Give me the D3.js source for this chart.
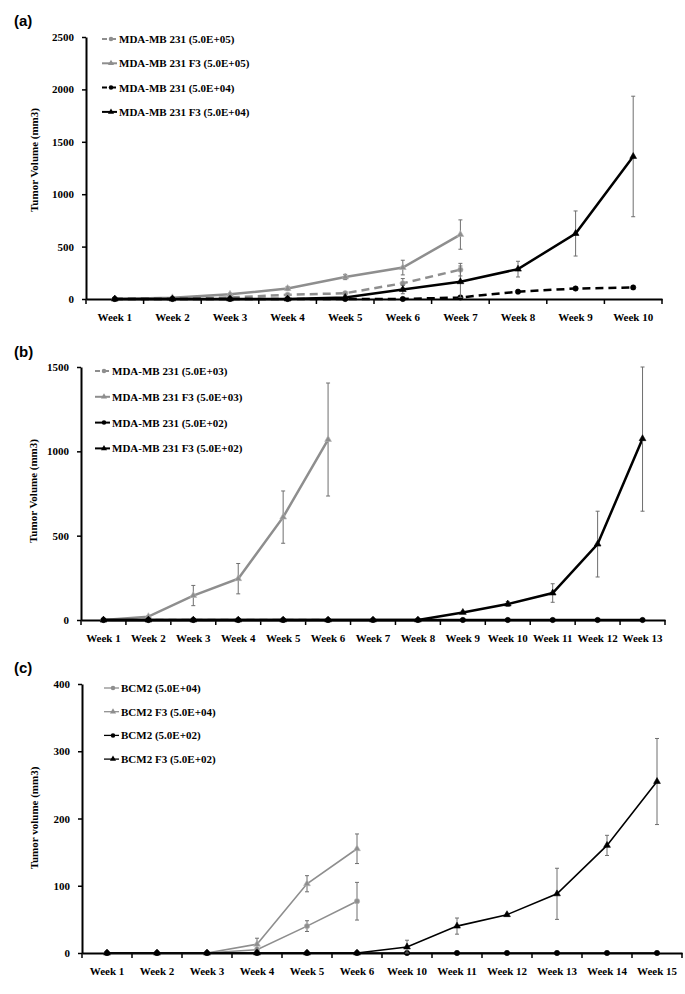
<!DOCTYPE html>
<html>
<head>
<meta charset="utf-8">
<script src="https://cdn.jsdelivr.net/npm/d3@7"></script>
<style>
body { margin: 0; background: #fff; }
text { font-family: "Liberation Serif", "Times New Roman", serif; font-weight: bold; }
</style>
</head>
<body>
<svg width="685" height="994"></svg>
<script>
// ---- panel (a) ----
var weeksA = ["Week 1","Week 2","Week 3","Week 4","Week 5","Week 6","Week 7","Week 8","Week 9","Week 10"];
var a231_5e5    = [0, 5, 15, 40, 55, 150, 280];
var a231_5e5Err = [0, 3, 8, 15, 15, 45, 60];
var aF3_5e5     = [0, 12, 45, 100, 210, 300, 615];
var aF3_5e5Err  = [0, 5, 10, 20, 25, 70, 140];
var a231_5e4    = [0, 0, 0, 0, 0, 0, 15, 70, 100, 110];
var a231_5e4Err = [0, 0, 0, 0, 0, 0, 10, 15, 15, 15];
var aF3_5e4     = [0, 0, 0, 0, 15, 90, 165, 285, 625, 1360];
var aF3_5e4Err  = [0, 0, 0, 0, 10, 40, 150, 75, 215, 575];
var ticksA = [0, 500, 1000, 1500, 2000, 2500];

// ---- panel (b) ----
var weeksB = ["Week 1","Week 2","Week 3","Week 4","Week 5","Week 6","Week 7","Week 8","Week 9","Week 10","Week 11","Week 12","Week 13"];
var b231_5e3    = [0, 0, 0, 0, 0, 0];
var bF3_5e3     = [0, 20, 145, 245, 610, 1070];
var bF3_5e3Err  = [0, 5, 60, 90, 155, 335];
var b231_5e2    = [0, 0, 0, 0, 0, 0, 0, 0, 0, 0, 0, 0, 0];
var bF3_5e2     = [0, 0, 0, 0, 0, 0, 0, 0, 45, 95, 160, 450, 1075];
var bF3_5e2Err  = [0, 0, 0, 0, 0, 0, 0, 0, 8, 15, 55, 195, 430];
var ticksB = [0, 500, 1000, 1500];

// ---- panel (c) ----
var weeksC = ["Week 1","Week 2","Week 3","Week 4","Week 5","Week 6","Week 10","Week 11","Week 12","Week 13","Week 14","Week 15"];
var cBCM2_5e4    = [0, 0, 0, 5, 40, 77];
var cBCM2_5e4Err = [0, 0, 0, 3, 8, 28];
var cF3_5e4      = [0, 0, 0, 13, 103, 155];
var cF3_5e4Err   = [0, 0, 0, 9, 12, 22];
var cBCM2_5e2    = [0, 0, 0, 0, 0, 0, 0, 0, 0, 0, 0, 0];
var cF3_5e2      = [0, 0, 0, 0, 0, 0, 9, 40, 57, 88, 160, 255];
var cF3_5e2Err   = [0, 0, 0, 0, 0, 0, 10, 12, 2, 38, 15, 64];
var ticksC = [0, 100, 200, 300, 400];

var GRAY = '#8e8e8e', BLACK = '#000';
var svg = d3.select('svg');

function drawPanel(p) {
  var x = d3.scaleBand().domain(p.cats).range([p.left, p.right]);
  var y = d3.scaleLinear().domain([0, p.yMax]).range([p.y0, p.yTop]).clamp(true);
  var cx = function(c) { return x(c) + x.bandwidth() / 2; };
  var g = svg.append('g');

  // panel letter
  g.append('text').attr('x', 14).attr('y', p.letterY)
    .style('font-family', '"Liberation Sans", Arial, sans-serif')
    .attr('font-size', 15).text(p.letter);

  // y axis
  var ya = g.append('g').attr('transform', 'translate(' + p.left + ',0)')
    .call(d3.axisLeft(y).tickValues(p.ticks).tickSize(4).tickSizeOuter(0).tickPadding(8).tickFormat(d3.format('d')));
  ya.select('.domain').attr('stroke-width', 2);
  ya.selectAll('.tick line').attr('stroke-width', 1.5);
  ya.selectAll('text').attr('font-size', 11);

  g.append('text')
    .attr('transform', 'translate(' + p.titleX + ',' + p.titleY + ') rotate(-90)')
    .attr('text-anchor', 'middle').attr('font-size', 11).text(p.title);

  // x axis
  var xa = g.append('g').attr('transform', 'translate(0,' + p.y0 + ')')
    .call(d3.axisBottom(x).tickSize(0).tickSizeOuter(0).tickPadding(14));
  xa.select('.domain').attr('stroke-width', 2);
  xa.selectAll('text').attr('font-size', 11);
  var bounds = p.cats.map(function(c) { return x(c); }).concat([x.range()[1]]);
  xa.selectAll('.bnd').data(bounds).enter().append('line')
    .attr('x1', function(d) { return d; }).attr('x2', function(d) { return d; })
    .attr('y1', 0).attr('y2', 5).attr('stroke', '#000').attr('stroke-width', 1.5);

  var line = d3.line().x(function(d) { return cx(d.c); }).y(function(d) { return y(d.v); });

  p.series.forEach(function(s) {
    var pts = s.values.map(function(v, i) { return { c: p.cats[i], v: v, e: s.err ? s.err[i] : 0 }; });
    g.append('path').datum(pts).attr('d', line).attr('fill', 'none')
      .attr('stroke', s.color).attr('stroke-width', p.lw)
      .attr('stroke-dasharray', s.dash ? '8,5' : null);

    var eb = g.selectAll(null).data(pts.filter(function(d) { return d.e > 0; })).enter().append('g')
      .attr('stroke', '#6f6f6f').attr('stroke-width', 1);
    eb.append('line').attr('x1', function(d) { return cx(d.c); }).attr('x2', function(d) { return cx(d.c); })
      .attr('y1', function(d) { return y(d.v + d.e); }).attr('y2', function(d) { return y(d.v - d.e); });
    eb.append('line').attr('x1', function(d) { return cx(d.c) - 2; }).attr('x2', function(d) { return cx(d.c) + 2; })
      .attr('y1', function(d) { return y(d.v + d.e); }).attr('y2', function(d) { return y(d.v + d.e); });
    eb.append('line').attr('x1', function(d) { return cx(d.c) - 2; }).attr('x2', function(d) { return cx(d.c) + 2; })
      .attr('y1', function(d) { return y(d.v - d.e); }).attr('y2', function(d) { return y(d.v - d.e); });

    var sym = d3.symbol().type(s.marker === 'tri' ? d3.symbolTriangle : d3.symbolCircle).size(s.marker === 'tri' ? 20 : 22);
    g.selectAll(null).data(pts).enter().append('path')
      .attr('d', sym)
      .attr('transform', function(d) { return 'translate(' + cx(d.c) + ',' + y(d.v) + ')'; })
      .attr('fill', s.color).attr('stroke', s.color === GRAY ? '#b5b5b5' : '#000').attr('stroke-width', 0.6);
  });

  // legend
  p.series.forEach(function(s, i) {
    var ly = p.legTop + i * p.legStep;
    var lg = g.append('g');
    lg.append('line').attr('x1', p.legX).attr('x2', p.legX + 15).attr('y1', ly).attr('y2', ly)
      .attr('stroke', s.color).attr('stroke-width', p.lw * 0.8)
      .attr('stroke-dasharray', s.dash ? '5,4' : null);
    var sym = d3.symbol().type(s.marker === 'tri' ? d3.symbolTriangle : d3.symbolCircle).size(16);
    lg.append('path').attr('d', sym).attr('transform', 'translate(' + (p.legX + 9) + ',' + ly + ')')
      .attr('fill', s.color);
    lg.append('text').attr('x', p.legX + 17).attr('y', ly + 4).attr('font-size', 11).text(s.name);
  });
}

drawPanel({
  letter: '(a)', letterY: 26, cats: weeksA, left: 86, right: 662, y0: 299, yTop: 37, yMax: 2500,
  ticks: ticksA, title: 'Tumor Volume (mm3)', titleX: 38, titleY: 160, lw: 2.5,
  legX: 102, legTop: 39, legStep: 24.3,
  series: [
    { name: 'MDA-MB 231 (5.0E+05)', values: a231_5e5, err: a231_5e5Err, color: GRAY, dash: true, marker: 'circle' },
    { name: 'MDA-MB 231 F3 (5.0E+05)', values: aF3_5e5, err: aF3_5e5Err, color: GRAY, dash: false, marker: 'tri' },
    { name: 'MDA-MB 231 (5.0E+04)', values: a231_5e4, err: a231_5e4Err, color: BLACK, dash: true, marker: 'circle' },
    { name: 'MDA-MB 231 F3 (5.0E+04)', values: aF3_5e4, err: aF3_5e4Err, color: BLACK, dash: false, marker: 'tri' }
  ]
});

drawPanel({
  letter: '(b)', letterY: 357, cats: weeksB, left: 81, right: 665, y0: 620, yTop: 367, yMax: 1500,
  ticks: ticksB, title: 'Tumor Volume (mm3)', titleX: 37, titleY: 491, lw: 2.5,
  legX: 95, legTop: 371, legStep: 25.8,
  series: [
    { name: 'MDA-MB 231 (5.0E+03)', values: b231_5e3, err: null, color: GRAY, dash: true, marker: 'circle' },
    { name: 'MDA-MB 231 F3 (5.0E+03)', values: bF3_5e3, err: bF3_5e3Err, color: GRAY, dash: false, marker: 'tri' },
    { name: 'MDA-MB 231 (5.0E+02)', values: b231_5e2, err: null, color: BLACK, dash: false, marker: 'circle' },
    { name: 'MDA-MB 231 F3 (5.0E+02)', values: bF3_5e2, err: bF3_5e2Err, color: BLACK, dash: false, marker: 'tri' }
  ]
});

drawPanel({
  letter: '(c)', letterY: 673, cats: weeksC, left: 82, right: 682, y0: 953, yTop: 684, yMax: 400,
  ticks: ticksC, title: 'Tumor volume (mm3)', titleX: 38, titleY: 818, lw: 1.6,
  legX: 104, legTop: 688, legStep: 23.7,
  series: [
    { name: 'BCM2 (5.0E+04)', values: cBCM2_5e4, err: cBCM2_5e4Err, color: GRAY, dash: false, marker: 'circle' },
    { name: 'BCM2 F3 (5.0E+04)', values: cF3_5e4, err: cF3_5e4Err, color: GRAY, dash: false, marker: 'tri' },
    { name: 'BCM2 (5.0E+02)', values: cBCM2_5e2, err: null, color: BLACK, dash: false, marker: 'circle' },
    { name: 'BCM2 F3 (5.0E+02)', values: cF3_5e2, err: cF3_5e2Err, color: BLACK, dash: false, marker: 'tri' }
  ]
});
</script>
</body>
</html>
